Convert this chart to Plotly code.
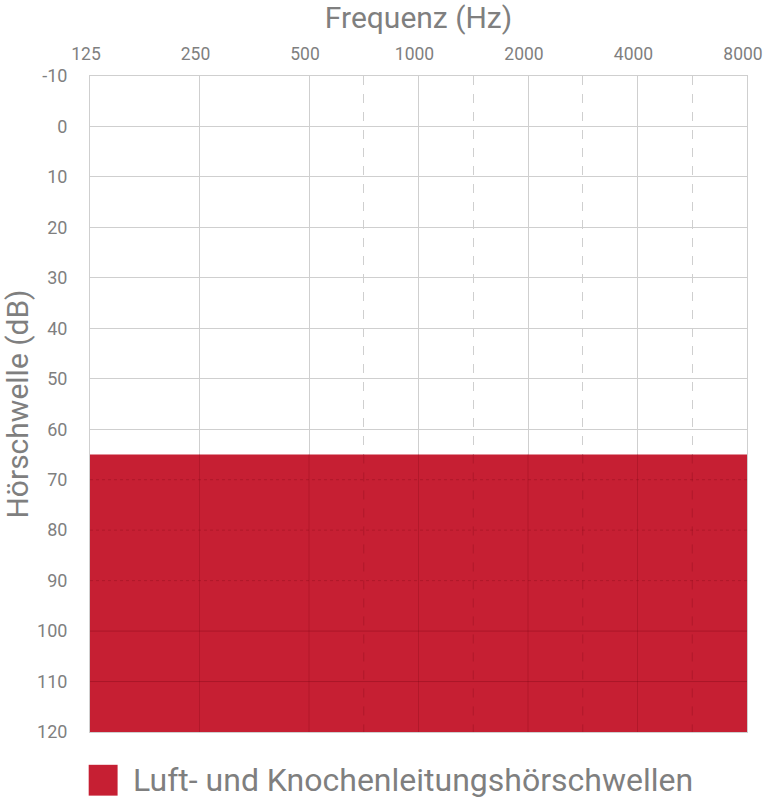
import plotly.graph_objects as go

# Audiogram: octave frequencies (equally spaced), intermediate frequencies,
# hearing-level range
freqs = [125, 250, 500, 1000, 2000, 4000, 8000]
freq_labels = ["125", "250", "500", "1000", "2000", "4000", "8000"]
mid_freqs = [750, 1500, 3000, 6000]
db_ticks = [-10, 0, 10, 20, 30, 40, 50, 60, 70, 80, 90, 100, 110, 120]
db_labels = ["-10", "0", "10", "20", "30", "40", "50", "60", "70", "80", "90", "100", "110", "120"]
threshold_db = [65, 65, 65, 65, 65, 65, 65]
floor_db = [120, 120, 120, 120, 120, 120, 120]
legend_label = "Luft- und Knochenleitungshörschwellen"

RED = "#C61F33"
GRID = "#CFCFCF"
TEXT = "#7F7F7F"
FONT = "Roboto, sans-serif"

# audiogram form: each octave gets one column, intermediate frequencies sit halfway
pos = list(range(len(freqs)))
mid_pos = [freqs.index(f // 3 * 2) + 0.5 for f in mid_freqs]

fig = go.Figure()

# bottom edge of the shaded area
fig.add_trace(go.Scatter(
    x=pos, y=floor_db, mode="lines", line=dict(width=0, color=RED),
    showlegend=False, hoverinfo="skip"))
# threshold band filled down to the floor
fig.add_trace(go.Scatter(
    x=pos, y=threshold_db, mode="lines", line=dict(width=0, color=RED),
    fill="tonexty", fillcolor=RED, name=legend_label, showlegend=False,
    customdata=freqs, hovertemplate="%{customdata} Hz: %{y} dB<extra></extra>"))

# grid lines seen through the band (darker red)
top = threshold_db[0]
for p in pos[1:-1]:
    fig.add_shape(type="line", xref="x", yref="y", x0=p, x1=p, y0=top, y1=120,
                  line=dict(color="rgba(110,0,15,0.22)", width=1), layer="above")
for p in mid_pos:
    fig.add_shape(type="line", xref="x", yref="y", x0=p, x1=p, y0=top, y1=120,
                  line=dict(color="rgba(110,0,15,0.25)", width=1, dash="dash"), layer="above")
for d in db_ticks:
    if top < d < 120:
        dotted = d < 100
        fig.add_shape(type="line", xref="x", yref="y", x0=pos[0], x1=pos[-1], y0=d, y1=d,
                      line=dict(color="rgba(110,0,15,%s)" % ("0.25" if dotted else "0.3"),
                                width=1, dash="dot" if dotted else "solid"),
                      layer="above")

# legend drawn below the plot
fig.add_shape(type="rect", xref="paper", yref="paper",
              x0=-0.002, x1=0.042, y0=-0.097, y1=-0.05,
              fillcolor=RED, line=dict(width=0))
fig.add_annotation(text=legend_label, xref="paper", yref="paper", x=0.062, y=-0.073,
                   xanchor="left", yanchor="middle", showarrow=False,
                   font=dict(family=FONT, size=32, color=TEXT))

fig.update_xaxes(
    range=[pos[0], pos[-1]], side="top", automargin=False,
    tickvals=pos, ticktext=freq_labels,
    tickfont=dict(family=FONT, size=17.5, color=TEXT),
    ticks="", ticklabelstandoff=8, ticklabelshift=-4, ticklabeloverflow="allow",
    showgrid=True, gridcolor=GRID, gridwidth=1,
    minor=dict(tickvals=mid_pos, showgrid=True, gridcolor=GRID, griddash="dash", ticks=""),
    showline=True, linecolor=GRID, mirror=True, zeroline=False,
    title=dict(text="Frequenz (Hz)", font=dict(family=FONT, size=30, color=TEXT), standoff=6),
)
fig.update_yaxes(
    range=[120, -10], tickvals=db_ticks, ticktext=db_labels, automargin=False,
    tickfont=dict(family=FONT, size=18, color=TEXT),
    ticks="", ticklabelstandoff=18,
    showgrid=True, gridcolor=GRID, gridwidth=1,
    showline=True, linecolor=GRID, mirror=True, zeroline=False,
    title=dict(text="Hörschwelle (dB)", font=dict(family=FONT, size=30, color=TEXT), standoff=8),
)

fig.update_layout(
    width=764, height=800,
    margin=dict(l=90, r=17, t=76, b=68),
    plot_bgcolor="white", paper_bgcolor="white",
    showlegend=False,
)

fig.write_html("out.html")
